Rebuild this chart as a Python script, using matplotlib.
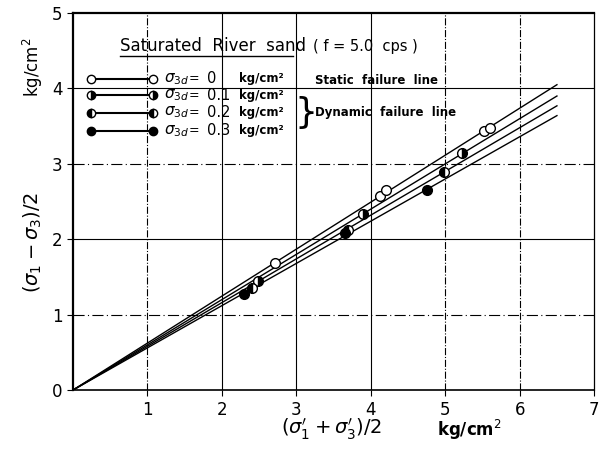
import matplotlib.pyplot as plt
import numpy as np

# failure lines (start at origin, end point)
line_x_end = 6.5
line_y_end = [4.05, 3.90, 3.77, 3.64]

# test points, (s1'+s3')/2 vs (s1-s3)/2
p0_x = [2.72, 4.12, 4.21, 5.52, 5.60]
p0_y = [1.68, 2.57, 2.66, 3.44, 3.48]
p1_x = [2.49, 3.89, 5.23]
p1_y = [1.45, 2.34, 3.15]
p2_x = [2.40, 3.70, 4.98]
p2_y = [1.35, 2.13, 2.89]
p3_x = [2.30, 3.65, 4.76]
p3_y = [1.28, 2.09, 2.66]

legend_vals = ['0', '0.1', '0.2', '0.3']
xticks = [1, 2, 3, 4, 5, 6, 7]
yticks = [0, 1, 2, 3, 4, 5]

fig = plt.figure(figsize=(6.02, 4.5), dpi=100)
ax = fig.add_axes([0.121, 0.133, 0.866, 0.838])
ax.set_xlim(0, 7)
ax.set_ylim(0, 5)

# grid, partly solid partly dash-dot like the original sheet
for x in [1, 5, 6]:
    ax.axvline(x, color='k', lw=0.8, ls='-.', zorder=1)
for x in [2, 3, 4]:
    ax.axvline(x, color='k', lw=0.8, zorder=1)
for y in [1, 3]:
    ax.axhline(y, color='k', lw=0.8, ls=(0, (10, 3, 1, 3)), zorder=1)
for y in [2, 4]:
    ax.axhline(y, color='k', lw=0.8, zorder=1)

# failure lines
for ye in line_y_end:
    ax.plot([0, line_x_end], [0, ye], color='k', lw=1.0, zorder=2)

mk = dict(marker='o', ms=7, mec='k', mfc='k', color='k', ls='none', mew=1.0, zorder=3)
ax.plot(p0_x, p0_y, **{**mk, 'mfc': 'white'})
ax.plot(p1_x, p1_y, fillstyle='right', markerfacecoloralt='white', **mk)
ax.plot(p2_x, p2_y, fillstyle='left', markerfacecoloralt='white', **mk)
ax.plot(p3_x, p3_y, **mk)

# legend drawn by hand
ax.text(0.63, 4.56, 'Saturated  River  sand', fontsize=12, va='center', ha='left',
        zorder=4)
ax.plot([0.63, 2.95], [4.43, 4.43], color='k', lw=1.0)
ax.text(3.23, 4.56, '( f = 5.0  cps )', fontsize=10.5, va='center', ha='left')

row_y = [4.13, 3.91, 3.68, 3.44]
styles = [dict(mfc='white'), dict(fillstyle='right', markerfacecoloralt='white'),
          dict(fillstyle='left', markerfacecoloralt='white'), dict()]
for y, v, st in zip(row_y, legend_vals, styles):
    kw = {**mk, **st}
    kw['ls'] = '-'
    kw['ms'] = 6
    ax.plot([0.25, 1.07], [y, y], **kw)
    ax.text(1.22, y, r'$\sigma_{3d}$', fontsize=11, va='center')
    ax.text(1.55, y, '=', fontsize=9, va='center')
    ax.text(1.8, y, v, fontsize=10.5, va='center')
    ax.text(2.23, y, 'kg/cm²', fontsize=8.5, va='center', fontweight='bold')

ax.text(3.25, 4.1, 'Static  failure  line', fontsize=8.5, va='center', fontweight='bold')
ax.text(2.98, 3.67, '}', fontsize=26, va='center', ha='left')
ax.text(3.25, 3.68, 'Dynamic  failure  line', fontsize=8.5, va='center', fontweight='bold')

ax.set_xticks(xticks)
ax.set_yticks(yticks)
ax.tick_params(labelsize=12, length=4, direction='out')
for s in ['left', 'top']:
    ax.spines[s].set_linewidth(1.6)
ax.spines['bottom'].set_linewidth(1.2)
ax.spines['right'].set_linewidth(0.9)

fig.text(0.055, 0.46, r"$(\sigma_1 - \sigma_3)/2$", rotation=90, fontsize=14,
         ha='center', va='center')
fig.text(0.055, 0.85, r'kg/cm$^2$', rotation=90, fontsize=12, ha='center', va='center')
fig.text(0.55, 0.045, r"$(\sigma_1' + \sigma_3')/2$", fontsize=14, ha='center', va='center')
fig.text(0.78, 0.045, r'kg/cm$^2$', fontsize=12, ha='center', va='center',
         fontweight='bold')

fig.savefig('out.png', dpi=100)
